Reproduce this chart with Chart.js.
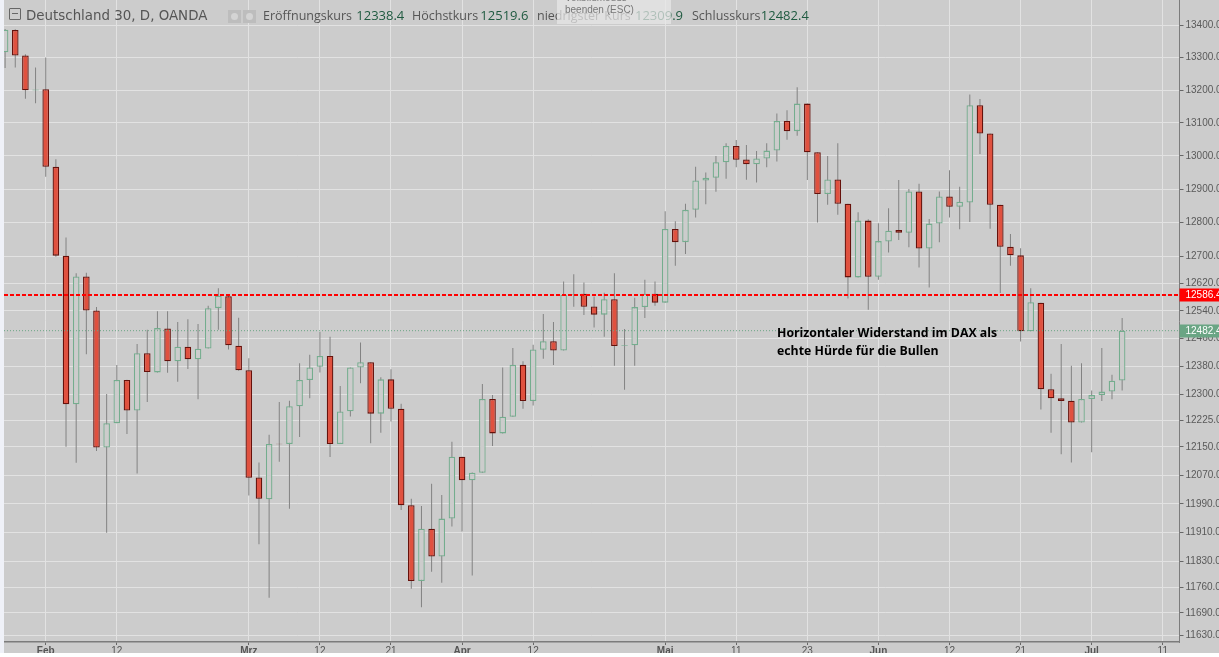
<!DOCTYPE html>
<html>
<head>
<meta charset="utf-8">
<title>Deutschland 30</title>
<script src="https://cdn.jsdelivr.net/npm/chart.js@4/dist/chart.umd.min.js"></script>
<style>
    html, body { margin: 0; padding: 0; background: #fff; overflow: hidden; width: 1219px; height: 657px; }
    #strip { position: absolute; left: 0; top: 0; width: 4px; height: 653px; background: #eff1f8; }
    #chart { position: absolute; left: 4px; top: 0; background: #cccccc; }
    .txt { position: absolute; white-space: nowrap; font-family: "Open Sans", sans-serif; color: #555; }
    .hd { top: 6px; font-size: 12.5px; line-height: 18px; word-spacing: -1px; }
    .hd b { font-weight: normal; font-size: 13px; color: #1f5a40; }
    #title { left: 26px; top: 6px; font: 13.4px/19px "DejaVu Sans", sans-serif; color: #555; }
    #collapse { position: absolute; left: 9px; top: 8px; width: 10px; height: 10px; border: 1px solid #666; border-radius: 1px; }
    #collapse i { position: absolute; left: 2px; right: 2px; top: 4px; height: 1px; background: #666; }
    .ico { position: absolute; top: 10px; width: 13px; height: 13px; background: #bdbdbd; }
    .ico i { position: absolute; left: 3px; top: 3px; width: 7px; height: 7px; border-radius: 50%; background: #d4d4d4; }
    #fullscreen { position: absolute; left: 557px; top: -8px; width: 114px; height: 32px; background: rgba(232,232,232,.72); color: #777;
        font: 10px/12px "Liberation Sans", sans-serif; padding: 0 0 0 8px; box-sizing: border-box; }
    .note { position: absolute; left: 777px; white-space: nowrap; font: bold 12.3px/16px "Open Sans", sans-serif; color: #000; }
</style>
</head>
<body>
<div id="strip"></div>
<canvas id="chart" width="1215" height="653"></canvas>

<div id="collapse"><i></i></div>
<div id="title" class="txt">Deutschland 30, D, OANDA</div>
<div class="ico" style="left:228px"><i></i></div>
<div class="ico" style="left:243px"><i></i></div>
<div class="txt hd" style="left:263px;word-spacing:1px">Eröffnungskurs <b>12338.4</b></div>
<div class="txt hd" style="left:412px">Höchstkurs <b>12519.6</b></div>
<div class="txt hd" style="left:537px;word-spacing:1px">niedrigster Kurs <b>12309.9</b></div>
<div class="txt hd" style="left:692px;word-spacing:-3px">Schlusskurs <b>12482.4</b></div>
<div id="fullscreen">Vollbildmodus<br>beenden (ESC)</div>
<div class="note" style="top:325px">Horizontaler Widerstand im DAX als</div>
<div class="note" style="top:343px">echte Hürde für die Bullen</div>

<script>
// Kerzen, von links nach rechts (Handelstage)
const opens = [
    13317,13386,13307,13199,13203,12967,12702,12271,12641,12541,
    12148,12217,12340,12253,12417,12362,12489,12394,12436,12400,
    12431,12548,12583,12439,12368,12064,12003,12159,12158,12265,
    12340,12378,12409,12158,12251,12376,12391,12244,12342,12258,
    11986,11777,11921,11844,11949,12122,12056,12077,12286,12188,
    12235,12384,12280,12427,12452,12425,12587,12590,12553,12529,
    12574,12439,12440,12551,12590,12564,12781,12742,12838,12926,
    12934,12981,13030,12989,12975,12992,13016,13106,13075,13159,
    13011,12885,12929,12856,12638,12806,12640,12744,12778,12770,
    12893,12723,12797,12878,12847,12860,13154,13068,12853,12728,
    12703,12481,12564,12314,12288,12281,12219,12286,12297,12307,
    12338.4
];
const highs = [
    13389,13388,13311,13270,13301,12990,12756,12650,12652,12551,
    12300,12383,12341,12444,12485,12539,12539,12508,12516,12502,
    12555,12606,12584,12520,12403,12106,12184,12277,12281,12388,
    12413,12479,12465,12323,12376,12448,12391,12348,12371,12272,
    12004,11984,12046,12015,12164,12122,12078,12329,12297,12376,
    12432,12394,12442,12531,12508,12626,12647,12623,12582,12593,
    12650,12487,12578,12631,12626,12834,12804,12856,12967,12950,
    13000,13038,13048,13033,13015,13038,13129,13139,13209,13159,
    13011,13000,13038,12856,12831,12810,12798,12843,12927,12900,
    12916,12811,12893,12957,12907,13187,13173,13068,12853,12766,
    12724,12606,12564,12358,12444,12381,12388,12310,12432,12355,
    12519.6
];
const lows = [
    13268,13270,13174,13160,12937,12699,12150,12105,12414,12138,
    11910,12217,12186,12075,12277,12362,12361,12335,12372,12285,
    12431,12485,12428,12367,12013,11878,11731,12108,11976,12178,
    12288,12362,12121,12158,12236,12331,12160,12190,12222,11973,
    11756,11705,11802,11772,11927,11913,11792,12077,12152,12188,
    12235,12258,12267,12401,12383,12425,12552,12528,12492,12465,
    12381,12312,12381,12519,12555,12564,12672,12707,12815,12855,
    12892,12931,12966,12928,12920,12966,12983,13049,13061,12927,
    12800,12853,12823,12576,12638,12543,12631,12711,12748,12727,
    12667,12608,12742,12815,12780,12802,13006,12782,12592,12672,
    12451,12481,12256,12190,12129,12106,12219,12135,12280,12285,
    12309.9
];
const closes = [
    13387,13307,13200,13202,12967,12702,12271,12641,12541,12148,
    12217,12340,12253,12417,12363,12490,12394,12436,12400,12430,
    12548,12584,12440,12368,12063,12004,12158,12157,12265,12340,
    12376,12409,12158,12250,12376,12391,12244,12342,12258,11986,
    11777,11921,11844,11949,12122,12056,12077,12286,12188,12235,
    12384,12280,12428,12452,12425,12587,12589,12552,12529,12574,
    12438,12441,12551,12590,12564,12781,12742,12838,12926,12934,
    12981,13030,12988,12975,12992,13016,13106,13075,13159,13011,
    12885,12929,12856,12638,12806,12640,12745,12776,12770,12893,
    12723,12797,12878,12847,12862,13154,13068,12853,12728,12703,
    12481,12565,12314,12288,12280,12219,12286,12297,12307,12338,
    12482.4
];

const priceTicks = [13400,13300,13200,13100,13000,12900,12800,12700,12620,12540,12460,12380,12300,12225,12150,12070,11990,11910,11830,11760,11690,11630];
const dateTickIndex = [4,11,24,31,38,45,52,65,72,79,86,93,100,107,114];
const dateTickLabels = ['Feb','12','Mrz','12','21','Apr','12','Mai','11','23','Jun','12','21','Jul','11'];
const monthLabels = ['Feb','Mrz','Apr','Mai','Jun','Jul'];

const resistance = 12586.4;
const lastClose = 12482.4;

const xMin = -0.108;
const xMax = 115.649;

const RED = '#e0513f';
const RED_EDGE = '#66110b';
const GREEN_EDGE = '#74ad8e';
const PLOT_BG = '#cccccc';
const GRID = '#e2e2e2';

// Preisschilder rechts auf der Achse
const priceTags = {
    id: 'priceTags',
    afterDraw(chart) {
        const ctx = chart.ctx;
        const scale = chart.scales.y;
        [[lastClose, '#6aa584'], [resistance, '#ff0000']].forEach(([price, color]) => {
            const y = Math.round(scale.getPixelForValue(price));
            ctx.save();
            ctx.fillStyle = color;
            ctx.fillRect(scale.left, y - 6.5, scale.width, 13);
            ctx.fillStyle = '#ffffff';
            ctx.font = '10px "Liberation Sans"';
            ctx.textBaseline = 'middle';
            ctx.fillText(price.toFixed(1), scale.left + 6, y + 0.5);
            ctx.restore();
        });
    }
};

const wicks = lows.map((low, i) => ({ x: i, y: [low, highs[i]] }));
const bodies = opens.map((open, i) => ({ x: i, y: [Math.min(open, closes[i]), Math.max(open, closes[i])] }));
const isFalling = opens.map((open, i) => closes[i] < open);

function dateTickFont(ctx) {
    const label = ctx.tick ? dateTickLabels[dateTickIndex.indexOf(ctx.tick.value)] : '';
    return { family: '"Liberation Sans"', size: 10, weight: monthLabels.includes(label) ? 'bold' : 'normal' };
}

// Keine zusaetzlichen Raender durch die Achsenbeschriftung
function noPadding(axis) {
    axis.paddingTop = 0;
    axis.paddingBottom = 0;
    axis.paddingLeft = 0;
    axis.paddingRight = 0;
}

new Chart(document.getElementById('chart').getContext('2d'), {
    data: {
        datasets: [
            {
                type: 'line',
                data: [{ x: xMin, y: resistance }, { x: xMax, y: resistance }],
                borderColor: '#ff0000',
                borderWidth: 2,
                borderDash: [4, 2],
                pointRadius: 0,
                order: 0
            },
            {
                type: 'line',
                data: [{ x: xMin, y: lastClose }, { x: xMax, y: lastClose }],
                borderColor: '#6aa584',
                borderWidth: 1,
                borderDash: [1, 2],
                pointRadius: 0,
                order: 0
            },
            {
                type: 'bar',
                data: bodies,
                grouped: false,
                barThickness: 6.6,
                borderWidth: 1.3,
                borderSkipped: false,
                inflateAmount: 0,
                backgroundColor: isFalling.map(f => f ? RED : PLOT_BG),
                borderColor: isFalling.map(f => f ? RED_EDGE : GREEN_EDGE),
                order: 1
            },
            {
                type: 'bar',
                data: wicks,
                grouped: false,
                barThickness: 1,
                borderWidth: 0,
                inflateAmount: 0,
                backgroundColor: '#828282',
                order: 2
            }
        ]
    },
    plugins: [priceTags],
    options: {
        responsive: false,
        animation: false,
        events: [],
        layout: { padding: 0 },
        plugins: { legend: { display: false }, tooltip: { enabled: false } },
        scales: {
            x: {
                type: 'linear',
                bounds: 'data',
                offset: false,
                min: xMin,
                max: xMax,
                afterBuildTicks: axis => { axis.ticks = dateTickIndex.map(v => ({ value: v })); },
                afterFit: axis => { axis.height = 11; noPadding(axis); },
                grid: { offset: false, color: GRID, lineWidth: 1, tickLength: 3, tickColor: '#666' },
                border: { color: '#7c7c7c', width: 1.5 },
                ticks: {
                    autoSkip: false,
                    maxRotation: 0,
                    padding: 0,
                    color: '#555',
                    font: dateTickFont,
                    callback: v => dateTickLabels[dateTickIndex.indexOf(v)]
                }
            },
            y: {
                type: 'logarithmic',
                position: 'right',
                bounds: 'data',
                min: 11611.1,
                max: 13479.7,
                afterBuildTicks: axis => { axis.ticks = priceTicks.map(v => ({ value: v })); },
                afterFit: axis => { axis.width = 39.5; noPadding(axis); },
                grid: { color: GRID, lineWidth: 1, tickLength: 4, tickColor: '#666' },
                border: { color: '#7c7c7c', width: 1 },
                ticks: {
                    autoSkip: false,
                    padding: 2,
                    color: '#5a5a5a',
                    font: { family: '"Liberation Sans"', size: 10 },
                    callback: v => Number(v).toFixed(1)
                }
            }
        }
    }
});
</script>
</body>
</html>
